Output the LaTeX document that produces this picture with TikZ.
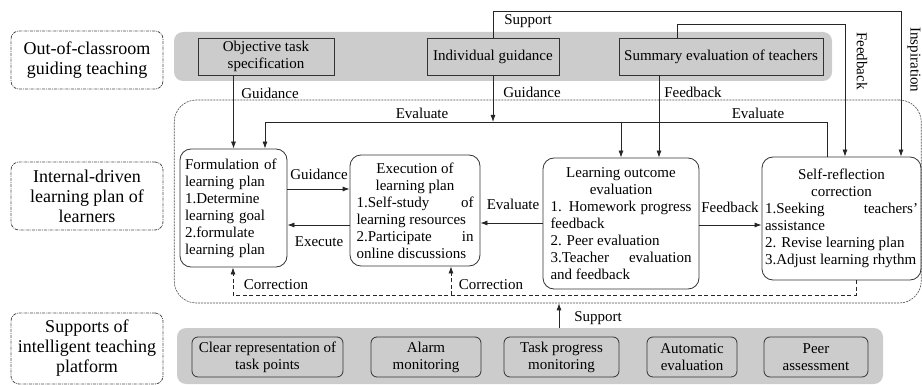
\documentclass[tikz,border=0pt]{standalone}
\usepackage{fontspec}
\setmainfont{Liberation Serif}
\usepackage{tikz}
\usetikzlibrary{arrows.meta}

\definecolor{bandgray}{RGB}{204,204,204}
\hyphenpenalty=10000
\exhyphenpenalty=10000
\tolerance=9999
\parindent=0pt

\tikzset{
  txt/.style={font=\fontsize{15}{17}\selectfont, inner sep=0pt},
  sidebox/.style={draw=black!70, densely dash dot, rounded corners=8pt, align=center,
    font=\fontsize{18}{20}\selectfont, inner sep=0pt, minimum width=152pt},
  band/.style={fill=bandgray, rounded corners=9pt, inner sep=0pt},
  topbox/.style={txt, draw=black!80, fill=bandgray, align=center, minimum height=37pt},
  stagebox/.style={txt, draw=black!80, rounded corners=11pt, inner sep=3pt, align=justify},
  toolbox/.style={txt, draw=black!80, fill=bandgray, rounded corners=6pt, align=center,
    minimum height=40pt},
  arr/.style={draw=black!85, -{Latex[length=7pt,width=5pt]}},
  corr/.style={dash pattern=on 4pt off 2.5pt},
}

\begin{document}
\begin{tikzpicture}[x=1pt, y=-1pt, line width=0.8pt]

\useasboundingbox (0,0) rectangle (922,385);

\node[band, minimum width=658pt, minimum height=49pt] (guideband) at (503,56.5) {};
\node[band, minimum width=706pt, minimum height=56pt] (platform) at (530,356) {};
\node[draw=black!70, line width=0.6pt, dash pattern=on 2pt off 1pt, rounded corners=22pt,
  minimum width=747pt, minimum height=203pt, inner sep=0pt] (learnzone) at (547.75,201.5) {};

\node[sidebox, minimum height=58pt] (side1) at (87,60) {Out-of-classroom\\guiding teaching};
\node[sidebox, minimum height=68pt] (side2) at (87,196) {Internal-driven\\learning plan of\\learners};
\node[sidebox, minimum height=71pt] (side3) at (87,348.5) {Supports of\\intelligent teaching\\platform};

\node[topbox, minimum width=136pt] (objtask) at (266,56.5) {Objective task\\specification};
\node[topbox, minimum width=132pt] (indiv) at (493,56.5) {Individual guidance};
\node[topbox, minimum width=204pt] (summary) at (721,56.5) {Summary evaluation of teachers};

\node[stagebox, text width=97pt, align=left, minimum width=107pt, minimum height=118pt] (formul) at (233.5,208)
  {Formulation of\\learning plan\\1.Determine\\learning goal\\2.formulate\\learning plan};
\node[stagebox, text width=117pt, minimum width=130pt, minimum height=111pt] (execu) at (415,210.5)
  {{\centering Execution of\par learning plan\par}1.Self-study of learning resources\par 2.Participate in online discussions};
\node[stagebox, text width=141pt, minimum width=156pt, minimum height=131pt] (outcome) at (621,223.5)
  {{\centering Learning outcome\par evaluation\par}1. Homework progress feedback\par 2. Peer evaluation\par 3.Teacher evaluation and feedback};
\node[stagebox, text width=153pt, minimum width=159pt, minimum height=123pt] (reflect) at (841.5,218.5)
  {{\centering Self-reflection\par correction\par}1.Seeking teachers' assistance\par 2. Revise learning plan\par 3.Adjust learning rhythm};

\node[toolbox, minimum width=151pt] (tool1) at (267.5,357) {Clear representation of\\task points};
\node[toolbox, minimum width=110pt] (tool2) at (426,357) {Alarm\\monitoring};
\node[toolbox, minimum width=115pt] (tool3) at (561.5,357) {Task progress\\monitoring};
\node[toolbox, minimum width=90pt] (tool4) at (692,357) {Automatic\\evaluation};
\node[toolbox, minimum width=104pt] (tool5) at (816,357) {Peer\\assessment};

\coordinate (supTop) at (901,11);
\coordinate (fbStart) at (677,24);
\coordinate (fbTop) at (845,24);
\coordinate (sumx) at (659,0);
\coordinate (evR) at (827,122);
\coordinate (evL) at (265,122);
\coordinate (gRow) at (0,189);
\coordinate (xRow) at (0,225);
\coordinate (eRow) at (0,223);
\coordinate (corR) at (856,295);
\coordinate (corL) at (233,295);
\coordinate (corM) at (451,295);
\coordinate (supx) at (559,0);

\draw[arr] (indiv.north) -- (indiv.north |- supTop) -- (supTop) -- (reflect.north -| supTop);
\draw[arr] (summary.north -| fbStart) -- (fbStart) -- (fbTop) -- (reflect.north -| fbTop);
\draw[arr] (objtask.south -| formul.north) -- (formul.north);
\draw[arr] (indiv.south) -- (indiv.south |- evL);
\draw[arr] (summary.south -| sumx) -- (outcome.north -| sumx);
\draw[arr] (reflect.north -| evR) -- (evR) -- (evL) -- (formul.north -| evL);
\draw[arr] (outcome.north |- evR) -- (outcome.north);

\draw[arr] (formul.east |- gRow) -- (execu.west |- gRow);
\draw[arr] (execu.west |- xRow) -- (formul.east |- xRow);
\draw[arr] (outcome.west |- eRow) -- (execu.east |- eRow);
\draw[arr] (outcome.east |- xRow) -- (reflect.west |- xRow);

\draw[arr, corr] (reflect.south -| corR) -- (corR) -- (corL) -- (formul.south -| corL);
\draw[arr, corr] (corM) -- (execu.south -| corM);
\draw[arr] (platform.north -| supx) -- (learnzone.south -| supx);

\node[txt] (lSupport) at (528,21) {Support};
\node[txt, rotate=-90] (lFeedbackV) at (862,61) {Feedback};
\node[txt, rotate=-90] (lInspire) at (914,60) {Inspiration};
\node[txt] (lGuide1) at (270,93) {Guidance};
\node[txt] (lGuide2) at (532,92) {Guidance};
\node[txt] (lFeedback1) at (693,92) {Feedback};
\node[txt] (lEval1) at (422,113) {Evaluate};
\node[txt] (lEval2) at (758,113) {Evaluate};
\node[txt] (lGuide3) at (319,174) {Guidance};
\node[txt] (lExec) at (319,242) {Execute};
\node[txt] (lEval3) at (513,204) {Evaluate};
\node[txt] (lFeedback2) at (730,207) {Feedback};
\node[txt] (lCorr1) at (276,285) {Correction};
\node[txt] (lCorr2) at (491,285) {Correction};
\node[txt] (lSupport2) at (598,318) {Support};

\end{tikzpicture}
\end{document}
